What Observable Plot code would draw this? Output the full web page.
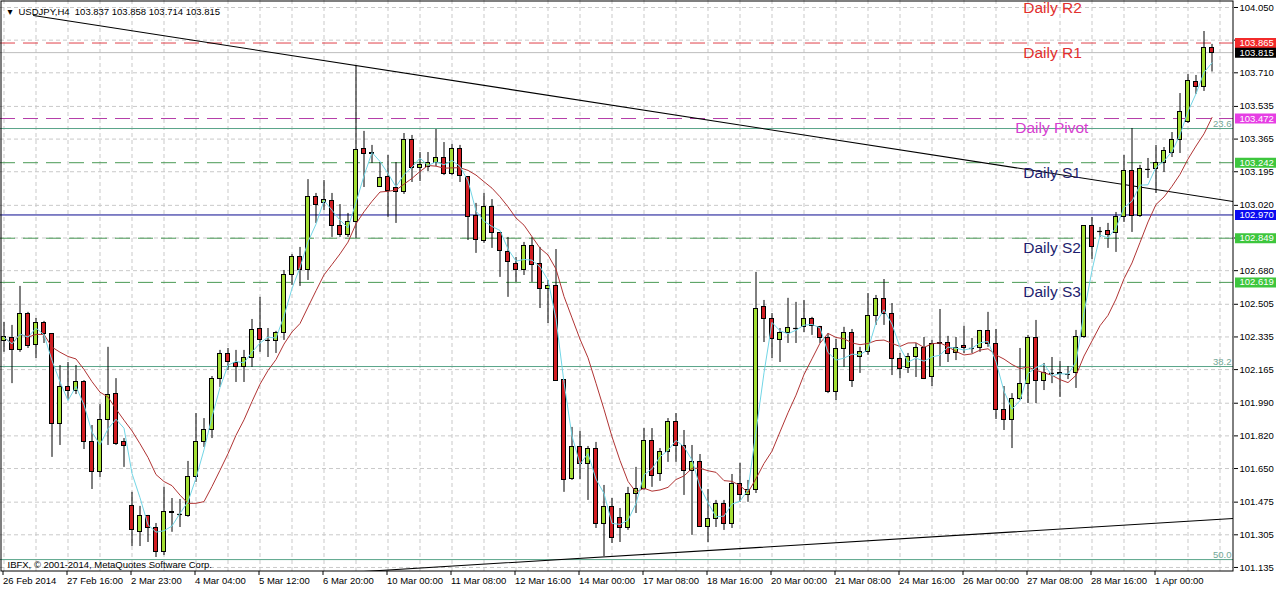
<!DOCTYPE html>
<html><head><meta charset="utf-8">
<script src="https://cdn.jsdelivr.net/npm/d3@7"></script>
<script src="https://cdn.jsdelivr.net/npm/@observablehq/plot@0.6"></script>
<style>
html,body{margin:0;padding:0;background:#fff;overflow:hidden;}
#chart svg{display:block;}
</style></head><body><div id="chart"></div>
<script>
// ---- H4 candles (USDJPY), bar index 0..151 ----
const openP = [102.312,102.327,102.265,102.452,102.291,102.405,102.348,101.884,102.072,102.056,
102.103,101.786,101.630,101.905,102.040,101.786,101.453,101.318,101.401,101.343,
101.213,101.422,101.411,101.401,101.604,101.786,101.848,102.118,102.244,102.197,
102.176,102.223,102.374,102.317,102.312,102.353,102.660,102.749,102.681,103.061,
103.030,103.045,102.910,102.868,102.931,103.311,103.285,103.118,103.170,103.108,
103.087,103.358,103.212,103.222,103.238,103.269,103.181,103.311,103.170,102.967,
102.837,103.009,102.874,102.775,102.717,102.686,102.806,102.717,102.587,102.598,
102.113,101.593,101.760,101.671,101.754,101.359,101.448,101.391,101.343,101.515,
101.546,101.791,101.619,101.734,101.890,101.765,101.635,101.682,101.348,101.385,
101.463,101.359,101.572,101.510,101.536,102.489,102.426,102.317,102.353,102.379,
102.385,102.431,102.385,102.327,102.046,102.270,102.358,102.228,102.259,102.442,
102.530,102.457,102.218,102.171,102.228,102.280,102.124,102.296,102.306,102.249,
102.286,102.275,102.275,102.364,102.296,101.957,101.905,102.014,102.092,102.327,
102.108,102.145,102.145,102.140,102.145,102.333,102.910,102.884,102.884,102.874,
102.957,103.201,102.967,103.207,103.207,103.238,103.295,103.358,103.452,103.660,
103.634,103.837];
const highP = [102.411,102.395,102.598,102.463,102.431,102.416,102.353,102.186,102.202,102.186,
102.108,101.874,101.983,102.281,102.118,101.806,101.526,101.453,101.406,101.364,
101.552,101.494,101.489,101.687,101.936,101.910,102.129,102.265,102.275,102.265,
102.265,102.426,102.541,102.379,102.364,102.681,102.764,102.801,103.154,103.082,
103.149,103.082,103.024,102.978,103.748,103.405,103.332,103.243,103.280,103.243,
103.394,103.384,103.295,103.295,103.415,103.347,103.337,103.332,103.170,103.030,
103.082,103.050,102.879,102.853,102.749,102.827,102.853,102.801,102.629,102.790,
102.113,101.864,101.843,101.765,101.786,101.562,101.494,101.442,101.552,101.656,
101.858,101.858,101.754,101.910,101.936,101.848,101.770,101.723,101.541,101.484,
101.484,101.619,101.677,101.588,102.671,102.525,102.457,102.379,102.536,102.515,
102.525,102.437,102.390,102.353,102.322,102.385,102.374,102.281,102.561,102.551,
102.634,102.509,102.249,102.249,102.301,102.332,102.317,102.478,102.338,102.332,
102.390,102.327,102.369,102.463,102.374,102.077,102.040,102.275,102.343,102.421,
102.197,102.228,102.207,102.181,102.369,102.915,102.957,102.905,102.926,102.983,
103.280,103.420,103.228,103.264,103.332,103.321,103.399,103.602,103.701,103.696,
103.925,103.858];
const lowP = [102.255,102.092,102.255,102.275,102.223,102.301,101.708,101.770,102.004,102.035,
101.749,101.541,101.604,101.770,101.770,101.656,101.244,101.244,101.265,101.187,
101.197,101.318,101.343,101.396,101.578,101.760,101.806,102.072,102.160,102.098,
102.098,102.176,102.255,102.228,102.249,102.317,102.603,102.598,102.629,102.926,
102.993,102.853,102.853,102.853,102.847,103.113,103.238,103.113,102.957,102.926,
103.077,103.139,103.144,103.196,103.222,103.175,103.175,103.139,102.837,102.770,
102.822,102.796,102.645,102.541,102.619,102.655,102.619,102.483,102.405,102.103,
101.526,101.588,101.593,101.484,101.338,101.192,101.260,101.265,101.328,101.416,
101.536,101.552,101.583,101.682,101.682,101.510,101.302,101.343,101.265,101.343,
101.328,101.338,101.474,101.474,101.520,102.306,102.223,102.202,102.301,102.301,
102.358,102.343,102.301,102.040,102.004,102.176,102.072,102.145,102.239,102.395,
102.395,102.134,102.118,102.145,102.124,102.113,102.077,102.181,102.202,102.212,
102.249,102.249,102.255,102.281,101.905,101.848,101.754,102.004,101.988,101.988,
102.056,102.092,102.020,102.113,102.067,102.327,102.738,102.853,102.796,102.775,
102.931,102.879,102.957,103.160,103.082,103.191,103.269,103.290,103.446,103.598,
103.613,103.714];
const closeP = [102.333,102.265,102.452,102.286,102.405,102.348,101.884,102.072,102.056,102.103,
101.786,101.630,101.905,102.035,101.780,101.765,101.328,101.401,101.343,101.213,
101.422,101.417,101.411,101.604,101.786,101.853,102.118,102.244,102.202,102.176,
102.223,102.369,102.317,102.317,102.353,102.660,102.749,102.681,103.061,103.024,
103.050,102.910,102.868,102.931,103.306,103.285,103.295,103.165,103.097,103.087,
103.358,103.212,103.228,103.243,103.269,103.181,103.311,103.175,102.957,102.842,
103.014,102.874,102.780,102.723,102.686,102.806,102.712,102.582,102.598,102.108,
101.588,101.760,101.671,101.754,101.359,101.448,101.286,101.343,101.515,101.546,
101.791,101.609,101.734,101.890,101.765,101.635,101.682,101.348,101.385,101.463,
101.359,101.572,101.510,101.536,102.483,102.426,102.322,102.353,102.379,102.379,
102.431,102.390,102.327,102.046,102.270,102.358,102.108,102.259,102.442,102.530,
102.457,102.218,102.166,102.228,102.280,102.118,102.296,102.306,102.244,102.280,
102.275,102.275,102.364,102.296,101.957,101.905,102.014,102.092,102.327,102.108,
102.145,102.145,102.140,102.140,102.333,102.910,102.801,102.884,102.868,102.957,
103.201,102.967,103.207,103.207,103.243,103.301,103.358,103.504,103.665,103.634,
103.837,103.815];

// ---- axis labels ----
const dateLabels = ["26 Feb 2014","27 Feb 16:00","2 Mar 23:00","4 Mar 04:00","5 Mar 12:00","6 Mar 20:00",
"10 Mar 00:00","11 Mar 08:00","12 Mar 16:00","14 Mar 00:00","17 Mar 08:00","18 Mar 16:00",
"20 Mar 00:00","21 Mar 08:00","24 Mar 16:00","26 Mar 00:00","27 Mar 08:00","28 Mar 16:00","1 Apr 00:00"];
const priceTicks = [104.050,103.880,103.710,103.535,103.365,103.195,103.020,102.850,102.680,
102.505,102.335,102.165,101.990,101.820,101.650,101.475,101.305,101.135];

// ---- levels ----
const pivotNames = ["Daily R2","Daily R1","Daily Pivot","Daily S1","Daily S2","Daily S3"];
const pivotValues = [104.097,103.865,103.472,103.242,102.849,102.619];
const pivotLabelBar = [127.4,127.4,126.4,127.4,127.4,127.4];
const fibNames = ["23.6","38.2","50.0"];
const fibValues = [103.420,102.181,101.176];
const keyLevel = 102.970;
const bidPrice = 103.815;
const tagValues = [103.865,103.815,103.472,103.242,102.970,102.849,102.619];
const tagColors = ["#f22b2b","#000000","#e63ee4","#3dc63d","#0b0bf0","#3dc63d","#3dc63d"];
const trendUpperBar = [3.69,153.69], trendUpperPrice = [104.008,103.040];
const trendLowerBar = [44.94,153.69], trendLowerPrice = [101.114,101.390];
const title = "USDJPY,H4  103.837 103.858 103.714 103.815";
const copyright = "IBFX, \u00a9 2001-2014, MetaQuotes Software Corp.";

// ---- build tables ----
const candles = openP.map((o,i)=>({i, open:o, high:highP[i], low:lowP[i], close:closeP[i]}));
const bodies = candles.filter(d=>Math.abs(d.open-d.close)>=0.003);
const dojis = candles.filter(d=>Math.abs(d.open-d.close)<0.003);
const pivots = pivotNames.map((n,k)=>({name:n, value:pivotValues[k], at:pivotLabelBar[k],
  kind: n.includes("Pivot") ? "P" : (n.includes("R") ? "R" : "S")}));
const fibs = fibNames.map((n,k)=>({name:n, value:fibValues[k]}));
const tags = tagValues.map((v,k)=>({v, c:tagColors[k]}));
const trendU = trendUpperBar.map((b,k)=>({b, p:trendUpperPrice[k]}));
const trendL = trendLowerBar.map((b,k)=>({b, p:trendLowerPrice[k]}));
const labelBars = dateLabels.map((_,k)=>k*8);
const gridBars = d3.range(0, 154, 4);
// axis labels hidden underneath a price tag are not printed (as in the terminal)
const shownTicks = priceTicks.filter(t => !tagValues.some(v => Math.abs(v - t) < 0.03));

const lineColor = {R:"#e0404a", P:"#b43ca8", S:"#4a9a55"};
const textColor = {R:"#e2302e", P:"#d640d0", S:"#1e1e6e"};
const FONT = "Liberation Sans, Arial, sans-serif";

const chart = Plot.plot({
  width: 1276, height: 589,
  marginLeft: 0, marginRight: 43, marginTop: 0, marginBottom: 18,
  style: {fontFamily: FONT, fontSize: "9.5px", overflow: "hidden", background: "#fff"},
  x: {type: "linear", domain: [-0.4375, 153.6875]},
  y: {type: "linear", domain: [101.114, 104.0864]},
  marks: [
    // grid
    Plot.ruleX(gridBars, {stroke: "#c9c9c9", strokeDasharray: "4,3"}),
    Plot.ruleY(priceTicks, {stroke: "#c9c9c9", strokeDasharray: "4,3"}),
    // bid line
    Plot.ruleY([bidPrice], {stroke: "#bdbdbd"}),
    // fibonacci levels
    Plot.ruleY(fibs, {y: "value", stroke: "#5aa58a"}),
    // pivot levels
    Plot.ruleY(pivots, {y: "value", stroke: d => lineColor[d.kind], strokeDasharray: "15,8"}),
    // key level
    Plot.ruleY([keyLevel], {stroke: "#0a0a90"}),
    // trend lines
    Plot.line(trendU, {x: "b", y: "p", stroke: "black", strokeWidth: 1.1, clip: true}),
    Plot.line(trendL, {x: "b", y: "p", stroke: "black", strokeWidth: 1.1, clip: true}),
    // candles
    Plot.ruleX(candles, {x: "i", y1: "low", y2: "high", stroke: "black"}),
    Plot.rect(bodies, {x1: d => d.i - 0.3, x2: d => d.i + 0.3, y1: "open", y2: "close",
      fill: d => d.close > d.open ? "#a3de33" : "#d21d22", stroke: "black", shapeRendering: "crispEdges"}),
    Plot.ruleY(dojis, {y: "close", x1: d => d.i - 0.3, x2: d => d.i + 0.3, stroke: "black", strokeWidth: 1.2}),
    // moving averages
    Plot.lineY(candles, Plot.windowY({k: 10, anchor: "end"}, {x: "i", y: "close", stroke: "#b03434", strokeWidth: 1})),
    Plot.lineY(candles, Plot.windowY({k: 3, anchor: "end"}, {x: "i", y: "close", stroke: "#72d6e6", strokeWidth: 1})),
    // level labels
    Plot.text(pivots, {x: "at", y: "value", text: "name", textAnchor: "start", lineAnchor: "middle", dy: 10,
      fill: d => textColor[d.kind], fontSize: 15.5, fontFamily: FONT}),
    Plot.text(fibs, {y: "value", text: "name", frameAnchor: "right", textAnchor: "end", lineAnchor: "middle",
      dx: -2, dy: -5, fill: "#74a897", fontSize: 9.5}),
    // title and copyright
    Plot.text([title], {frameAnchor: "top-left", text: d => d, textAnchor: "start", lineAnchor: "middle",
      dx: 18, dy: 11.5, fill: "black", fontSize: 9.5}),
    Plot.text(["\u25BE"], {frameAnchor: "top-left", text: d => d, textAnchor: "start", lineAnchor: "middle",
      dx: 7, dy: 11, fill: "black", fontSize: 10, fontFamily: "DejaVu Sans"}),
    Plot.text([copyright], {frameAnchor: "bottom-left", text: d => d, textAnchor: "start", lineAnchor: "middle",
      dx: 7, dy: -7, fill: "black", fontSize: 9.5}),
    // axes
    Plot.axisY(priceTicks, {anchor: "right", tickSize: 4, tickPadding: 2, text: null, label: null}),
    Plot.axisY(shownTicks, {anchor: "right", tickSize: 0, tickPadding: 6, tickFormat: d3.format(".3f"),
      label: null, fontSize: 9.5}),
    Plot.axisX(labelBars, {anchor: "bottom", tickSize: 4, tickPadding: 2, textAnchor: "start", dx: -1,
      tickFormat: d => dateLabels[d / 8], label: null, fontSize: 9.5}),
    // price tags
    Plot.ruleY(tags, {y: "v", stroke: "c", strokeWidth: 10, dx: 1235}),
    Plot.text(tags, {y: "v", text: d => d.v.toFixed(3), frameAnchor: "right", textAnchor: "start",
      lineAnchor: "middle", dx: 6, fill: "white", fontSize: 9.5}),
    Plot.frame({stroke: "black", inset: 0.5})
  ]
});
document.getElementById("chart").appendChild(chart);
</script></body></html>
